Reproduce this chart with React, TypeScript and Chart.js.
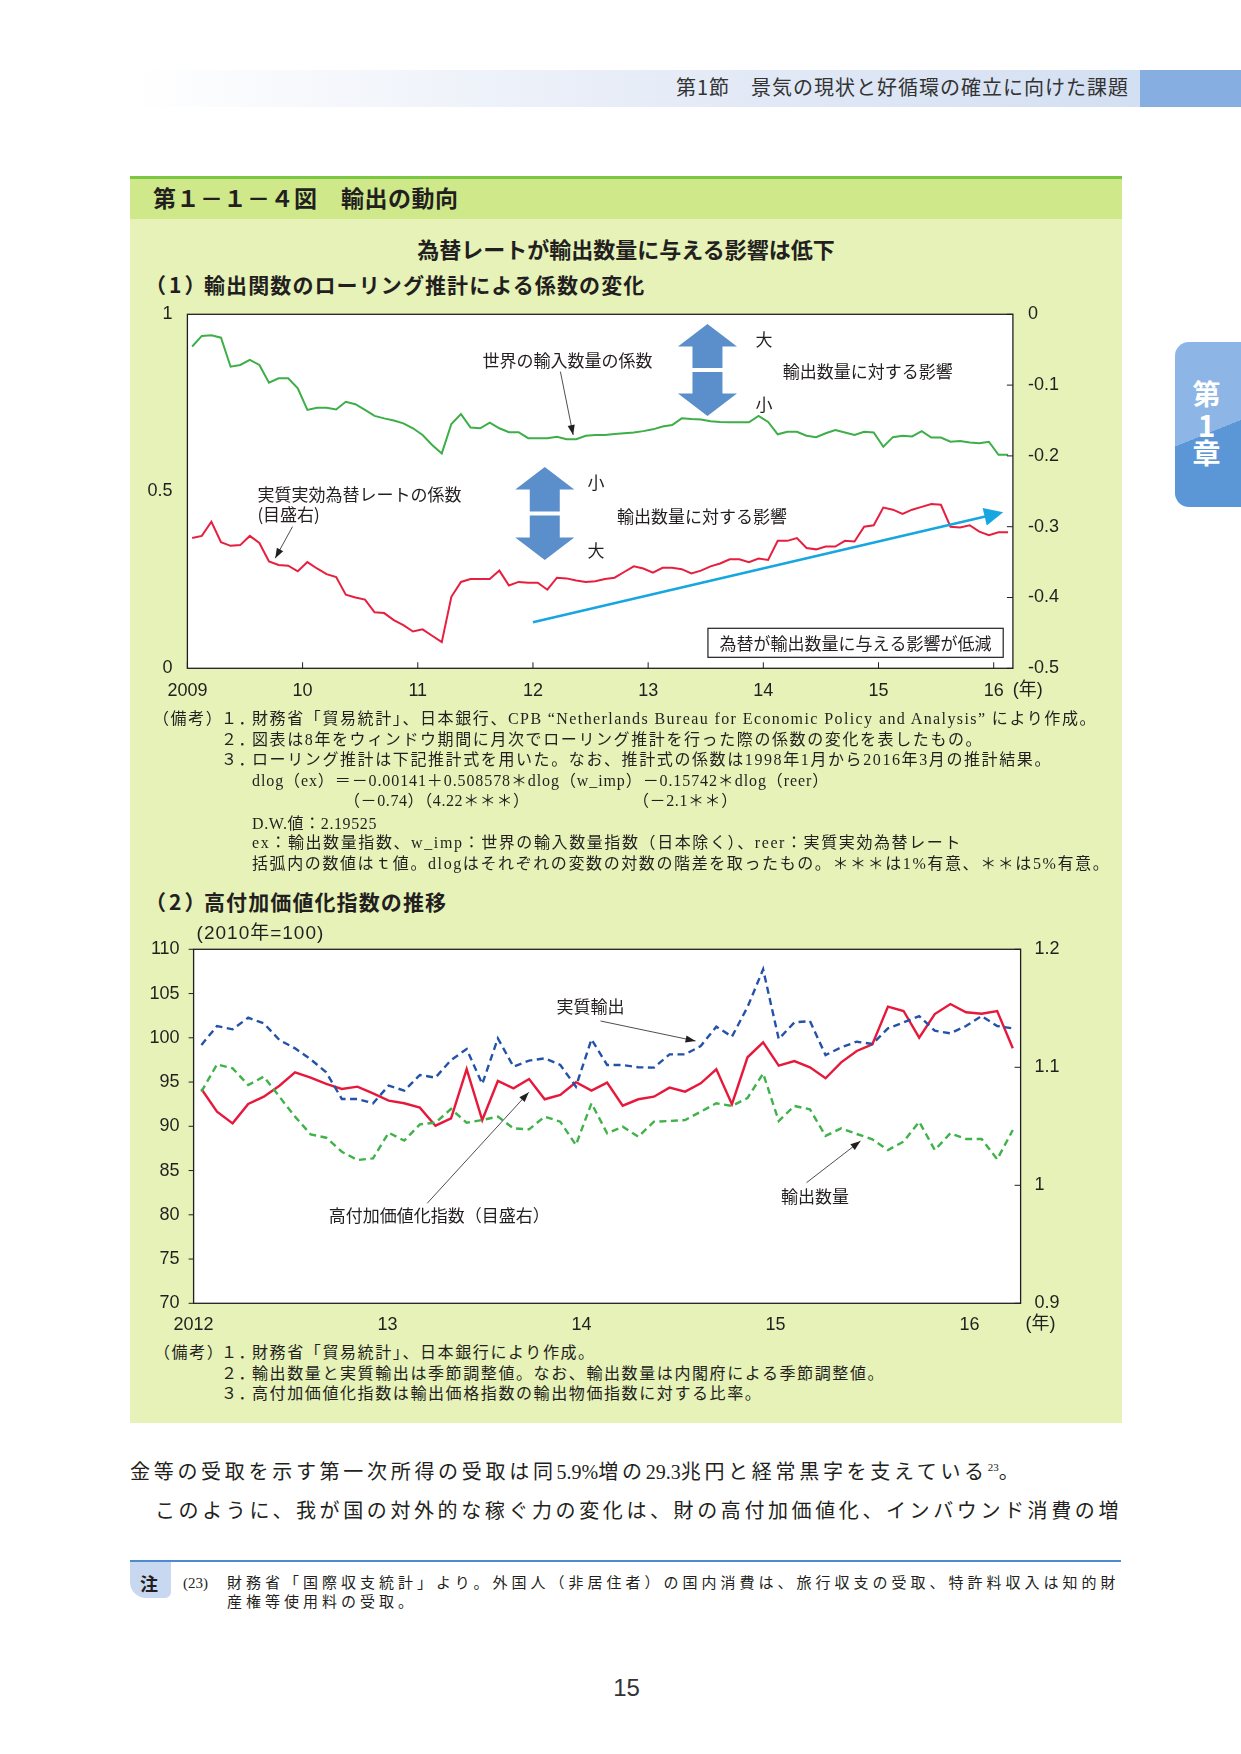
import React, { useEffect, useRef } from "react";
import { Chart, registerables } from "chart.js";

Chart.register(...registerables);

const SANS = '"Noto Sans CJK JP", "Noto Sans", sans-serif';
const NUM = '"Liberation Sans", "Noto Sans CJK JP", sans-serif';
const SERIF = '"Liberation Serif", "Noto Sans CJK JP", serif';
const INK = "#231f20";

// ---------------- Chart (1) data ----------------
const C1_YEAR_LABELS = ["2009", "10", "11", "12", "13", "14", "15", "16"];
const C1_MONTHS = 86; // Jan 2009 .. Feb 2016 (monthly rolling estimates)
const C1_WORLD_IMPORT_COEF = [
  0.909, 0.939, 0.941, 0.934, 0.852, 0.857, 0.871, 0.857, 0.807, 0.819,
  0.819, 0.791, 0.730, 0.736, 0.736, 0.731, 0.753, 0.746, 0.730, 0.713,
  0.706, 0.700, 0.692, 0.678, 0.659, 0.631, 0.607, 0.690, 0.718, 0.680,
  0.678, 0.694, 0.678, 0.667, 0.667, 0.650, 0.650, 0.650, 0.654, 0.647,
  0.647, 0.657, 0.659, 0.659, 0.662, 0.664, 0.666, 0.670, 0.675, 0.683,
  0.687, 0.706, 0.704, 0.703, 0.698, 0.696, 0.695, 0.695, 0.695, 0.713,
  0.696, 0.661, 0.668, 0.668, 0.657, 0.653, 0.664, 0.673, 0.666, 0.659,
  0.668, 0.666, 0.626, 0.653, 0.657, 0.655, 0.670, 0.652, 0.652, 0.640,
  0.642, 0.638, 0.636, 0.640, 0.603, 0.603,
];
const C1_REER_COEF = [
  -0.316, -0.313, -0.293, -0.322, -0.327, -0.326, -0.313, -0.323, -0.349, -0.354,
  -0.355, -0.363, -0.350, -0.359, -0.367, -0.371, -0.396, -0.400, -0.403, -0.421,
  -0.422, -0.432, -0.439, -0.448, -0.445, -0.454, -0.463, -0.399, -0.378, -0.374,
  -0.374, -0.374, -0.362, -0.383, -0.378, -0.379, -0.379, -0.389, -0.372, -0.373,
  -0.376, -0.378, -0.377, -0.374, -0.372, -0.364, -0.356, -0.359, -0.365, -0.358,
  -0.358, -0.360, -0.366, -0.362, -0.356, -0.352, -0.346, -0.346, -0.350, -0.345,
  -0.347, -0.320, -0.320, -0.316, -0.330, -0.332, -0.328, -0.328, -0.320, -0.321,
  -0.300, -0.298, -0.273, -0.276, -0.282, -0.276, -0.272, -0.268, -0.269, -0.300,
  -0.301, -0.298, -0.307, -0.312, -0.308, -0.308,
];

// annotations of chart (1), in data units (x: month index, yL / yR)
const C1_TEXTS = [
  { text: "世界の輸入数量の係数", x: 39.59, y: 0.868, align: "center" },
  { text: "大", x: 60.06, y: 0.930, align: "center" },
  { text: "小", x: 60.06, y: 0.744, align: "center" },
  { text: "輸出数量に対する影響", x: 62.02, y: 0.837, align: "left" },
  { text: "小", x: 42.56, y: 0.524, align: "center" },
  { text: "大", x: 42.56, y: 0.334, align: "center" },
  { text: "輸出数量に対する影響", x: 44.75, y: 0.430, align: "left" },
  { text: "実質実効為替レートの係数", x: 7.29, y: 0.4895, align: "left" },
  { text: "(目盛右)", x: 7.29, y: 0.433, align: "left" },
];
const C1_LEADERS = [
  { from: [38.86, 0.838], to: [40.19, 0.659] },
  { from: [10.95, 0.4], to: [9.15, 0.311] },
];
const C1_BLOCK_ARROWS = [
  { x: 54.18, top: 0.9726, bottom: 0.7127 },
  { x: 37.23, top: 0.5686, bottom: 0.3059 },
];
const C1_TREND = { from: [36.0, -0.435], to: [84.99, -0.2797] };
const C1_BOX = { x0: 54.23, x1: 84.99, y0: -0.4435, y1: -0.4845, text: "為替が輸出数量に与える影響が低減" };

// ---------------- Chart (2) data ----------------
const C2_YEAR_LABELS = ["2012", "13", "14", "15", "16"];
const C2_POINTS = 53;
const C2_TICK_SPACING = 12.43;
const C2_REAL_EXPORT = [
  99.19, 101.33, 100.96, 102.27, 101.63, 99.75, 98.81, 97.57, 96.10, 93.09,
  93.09, 92.60, 94.60, 94.03, 95.80, 95.50, 97.49, 98.73, 94.78, 99.94,
  96.74, 97.42, 97.68, 96.93, 94.48, 99.83, 96.93, 96.93, 96.67, 96.63,
  98.13, 98.13, 99.07, 101.26, 100.13, 103.48, 107.74, 99.86, 101.74, 101.89,
  98.05, 98.92, 99.56, 99.30, 101.07, 101.74, 102.46, 100.80, 100.50, 101.33,
  102.46, 101.33, 101.07,
];
const C2_EXPORT_VOLUME = [
  93.91, 97.00, 96.55, 94.67, 95.61, 93.35, 91.09, 89.09, 88.71, 87.13,
  86.19, 86.38, 89.28, 88.38, 90.22, 90.41, 91.96, 90.40, 90.71, 91.09,
  89.77, 89.66, 91.09, 90.52, 87.89, 92.60, 89.21, 89.96, 88.83, 90.52,
  90.60, 90.71, 91.65, 92.60, 92.30, 93.20, 95.97, 90.60, 92.30, 91.92,
  88.91, 89.77, 89.13, 88.53, 87.32, 88.27, 90.52, 87.32, 89.21, 88.57,
  88.57, 86.27, 89.58,
];
const C2_HIGH_VALUE_INDEX = [
  1.0816, 1.0624, 1.0525, 1.0689, 1.0751, 1.0844, 1.0957, 1.0912, 1.0859, 1.0816,
  1.0836, 1.0779, 1.0717, 1.0695, 1.0658, 1.0505, 1.0567, 1.0985, 1.0553, 1.0884,
  1.0822, 1.0901, 1.0729, 1.0766, 1.0873, 1.0802, 1.0870, 1.0675, 1.0729, 1.0751,
  1.0828, 1.0794, 1.0864, 1.0983, 1.0687, 1.1085, 1.1211, 1.1014, 1.1053, 1.1000,
  1.0907, 1.1042, 1.1138, 1.1195, 1.1514, 1.1477, 1.1251, 1.1451, 1.1536, 1.1466,
  1.1454, 1.1477, 1.1161,
];

const C2_TEXTS = [
  { text: "実質輸出", x: 24.94, y: 103.51, align: "center" },
  { text: "高付加価値化指数（目盛右）", x: 8.16, y: 79.86, align: "left" },
  { text: "輸出数量", x: 39.33, y: 82.05, align: "center" },
];
const C2_LEADERS = [
  { from: [25.58, 101.9], to: [31.67, 99.64] },
  { from: [14.47, 81.3], to: [20.98, 93.84] },
  { from: [38.78, 83.63], to: [42.24, 88.34] },
];

// ---------------- drawing helpers ----------------
function arrowHead(ctx: any, x1: number, y1: number, x2: number, y2: number, len: number, halfW: number, color: string) {
  const a = Math.atan2(y2 - y1, x2 - x1);
  const bx = x2 - len * Math.cos(a);
  const by = y2 - len * Math.sin(a);
  ctx.save();
  ctx.fillStyle = color;
  ctx.beginPath();
  ctx.moveTo(x2, y2);
  ctx.lineTo(bx + halfW * Math.sin(a), by - halfW * Math.cos(a));
  ctx.lineTo(bx - halfW * Math.sin(a), by + halfW * Math.cos(a));
  ctx.closePath();
  ctx.fill();
  ctx.restore();
}

function leader(ctx: any, x1: number, y1: number, x2: number, y2: number) {
  ctx.save();
  ctx.strokeStyle = INK;
  ctx.lineWidth = 0.8;
  ctx.beginPath();
  ctx.moveTo(x1, y1);
  ctx.lineTo(x2, y2);
  ctx.stroke();
  ctx.restore();
  arrowHead(ctx, x1, y1, x2, y2, 10, 3.6, INK);
}

function blockArrow(ctx: any, cx: number, top: number, bottom: number, color: string) {
  const headW = 29.5, headH = 22.5, shaftW = 15, gap = 2;
  const mid = (top + bottom) / 2;
  ctx.save();
  ctx.fillStyle = color;
  ctx.beginPath();
  ctx.moveTo(cx, top);
  ctx.lineTo(cx + headW, top + headH);
  ctx.lineTo(cx + shaftW, top + headH);
  ctx.lineTo(cx + shaftW, mid - gap);
  ctx.lineTo(cx - shaftW, mid - gap);
  ctx.lineTo(cx - shaftW, top + headH);
  ctx.lineTo(cx - headW, top + headH);
  ctx.closePath();
  ctx.fill();
  ctx.beginPath();
  ctx.moveTo(cx, bottom);
  ctx.lineTo(cx + headW, bottom - headH);
  ctx.lineTo(cx + shaftW, bottom - headH);
  ctx.lineTo(cx + shaftW, mid + gap);
  ctx.lineTo(cx - shaftW, mid + gap);
  ctx.lineTo(cx - shaftW, bottom - headH);
  ctx.lineTo(cx - headW, bottom - headH);
  ctx.closePath();
  ctx.fill();
  ctx.restore();
}

const whiteArea = {
  id: "whiteArea",
  beforeDraw(chart: any) {
    const { ctx, chartArea: a } = chart;
    ctx.save();
    ctx.fillStyle = "#ffffff";
    ctx.fillRect(a.left, a.top, a.width, a.height);
    ctx.restore();
  },
};

const chart1Decor = {
  id: "chart1Decor",
  afterDatasetsDraw(chart: any) {
    const { ctx, chartArea: a, scales } = chart;
    const X = (v: number) => scales.x.getPixelForValue(v);
    const L = (v: number) => scales.yL.getPixelForValue(v);
    const R = (v: number) => scales.yR.getPixelForValue(v);
    ctx.save();
    // block arrows
    C1_BLOCK_ARROWS.forEach((b) => blockArrow(ctx, X(b.x), L(b.top), L(b.bottom), "#5b8fcb"));
    // trend arrow
    const tx1 = X(C1_TREND.from[0]), ty1 = R(C1_TREND.from[1]);
    const tx2 = X(C1_TREND.to[0]), ty2 = R(C1_TREND.to[1]);
    const ang = Math.atan2(ty2 - ty1, tx2 - tx1);
    ctx.strokeStyle = "#17a6e0";
    ctx.lineWidth = 2.6;
    ctx.beginPath();
    ctx.moveTo(tx1, ty1);
    ctx.lineTo(tx2 - 14 * Math.cos(ang), ty2 - 14 * Math.sin(ang));
    ctx.stroke();
    arrowHead(ctx, tx1, ty1, tx2, ty2, 19, 9, "#17a6e0");
    // box
    const bx0 = X(C1_BOX.x0), bx1 = X(C1_BOX.x1), by0 = R(C1_BOX.y0), by1 = R(C1_BOX.y1);
    ctx.fillStyle = "#ffffff";
    ctx.fillRect(bx0, by0, bx1 - bx0, by1 - by0);
    ctx.strokeStyle = INK;
    ctx.lineWidth = 1.2;
    ctx.strokeRect(bx0, by0, bx1 - bx0, by1 - by0);
    ctx.fillStyle = INK;
    ctx.font = `17px ${SANS}`;
    ctx.textAlign = "center";
    ctx.textBaseline = "middle";
    ctx.fillText(C1_BOX.text, (bx0 + bx1) / 2, (by0 + by1) / 2 + 1);
    // texts
    ctx.font = `17px ${SANS}`;
    C1_TEXTS.forEach((t) => {
      ctx.textAlign = t.align;
      ctx.fillText(t.text, X(t.x), L(t.y));
    });
    C1_LEADERS.forEach((l) => leader(ctx, X(l.from[0]), L(l.from[1]), X(l.to[0]), L(l.to[1])));
    // frame & ticks
    ctx.strokeStyle = INK;
    ctx.lineWidth = 1.3;
    ctx.strokeRect(a.left, a.top, a.width, a.height);
    ctx.lineWidth = 1;
    ctx.beginPath();
    scales.yR.ticks.forEach((t: any) => {
      const y = R(t.value);
      ctx.moveTo(a.right - 6, y);
      ctx.lineTo(a.right, y);
    });
    scales.x.ticks.forEach((t: any) => {
      const x = X(t.value);
      ctx.moveTo(x, a.bottom);
      ctx.lineTo(x, a.bottom - 6);
    });
    ctx.stroke();
    // year unit
    ctx.fillStyle = INK;
    ctx.font = `18px ${NUM}`;
    ctx.textAlign = "left";
    ctx.textBaseline = "middle";
    const lastTick = scales.x.ticks[scales.x.ticks.length - 1];
    ctx.fillText("(年)", X(lastTick.value) + 19, a.bottom + 21.7);
    ctx.restore();
  },
};

const chart2Decor = {
  id: "chart2Decor",
  afterDatasetsDraw(chart: any) {
    const { ctx, chartArea: a, scales } = chart;
    const X = (v: number) => scales.x.getPixelForValue(v);
    const L = (v: number) => scales.yL.getPixelForValue(v);
    const R = (v: number) => scales.yR.getPixelForValue(v);
    ctx.save();
    ctx.fillStyle = INK;
    ctx.font = `17px ${SANS}`;
    ctx.textBaseline = "middle";
    C2_TEXTS.forEach((t) => {
      ctx.textAlign = t.align;
      ctx.fillText(t.text, X(t.x), L(t.y));
    });
    C2_LEADERS.forEach((l) => leader(ctx, X(l.from[0]), L(l.from[1]), X(l.to[0]), L(l.to[1])));
    ctx.strokeStyle = INK;
    ctx.lineWidth = 1.3;
    ctx.strokeRect(a.left, a.top, a.width, a.height);
    ctx.lineWidth = 1;
    ctx.beginPath();
    scales.yL.ticks.forEach((t: any) => {
      const y = L(t.value);
      ctx.moveTo(a.left - 5, y);
      ctx.lineTo(a.left, y);
    });
    scales.yR.ticks.forEach((t: any) => {
      const y = R(t.value);
      ctx.moveTo(a.right - 6, y);
      ctx.lineTo(a.right, y);
    });
    ctx.stroke();
    ctx.fillStyle = INK;
    ctx.font = `19px ${NUM}`;
    ctx.textAlign = "left";
    try {
      ctx.letterSpacing = "1px";
    } catch (e) {}
    ctx.fillText("(2010年=100)", a.left + 3, a.top - 15.5);
    try {
      ctx.letterSpacing = "0px";
    } catch (e) {}
    ctx.font = `18px ${NUM}`;
    ctx.fillText("(年)", a.right + 5, a.bottom + 21);
    ctx.restore();
  },
};

const tickFont = { family: NUM, size: 18 };
const fmt1 = (v: number) => String(Math.round(v * 10) / 10);

function makeChart1(canvas: HTMLCanvasElement) {
  return new Chart(canvas, {
    type: "line",
    data: {
      datasets: [
        {
          label: "世界の輸入数量の係数",
          data: C1_WORLD_IMPORT_COEF.map((v, i) => ({ x: i + 0.5, y: v })),
          yAxisID: "yL",
          borderColor: "#3dae48",
          borderWidth: 2,
          pointRadius: 0,
          tension: 0,
        },
        {
          label: "実質実効為替レートの係数",
          data: C1_REER_COEF.map((v, i) => ({ x: i + 0.5, y: v })),
          yAxisID: "yR",
          borderColor: "#e71f3f",
          borderWidth: 2,
          pointRadius: 0,
          tension: 0,
        },
      ],
    },
    options: {
      animation: false,
      responsive: false,
      maintainAspectRatio: false,
      layout: { padding: { top: 24.3, left: 0, right: 0, bottom: 0 } },
      plugins: { legend: { display: false }, tooltip: { enabled: false } },
      scales: {
        x: {
          type: "linear",
          min: 0,
          max: C1_MONTHS,
          grid: { display: false },
          border: { display: false },
          afterBuildTicks: (s: any) => {
            s.ticks = C1_YEAR_LABELS.map((_, k) => ({ value: k * 12 }));
          },
          afterFit: (s: any) => {
            s.height = 41.7;
          },
          ticks: {
            autoSkip: false,
            maxRotation: 0,
            padding: 4.3,
            color: INK,
            font: tickFont,
            callback: (_v: any, i: number) => C1_YEAR_LABELS[i],
          },
        },
        yL: {
          position: "left",
          min: 0,
          max: 1,
          grid: { display: false },
          border: { display: false },
          afterFit: (s: any) => {
            s.width = 57.4;
          },
          ticks: { stepSize: 0.5, padding: 7, color: INK, font: tickFont, callback: (v: any) => fmt1(v) },
        },
        yR: {
          position: "right",
          min: -0.5,
          max: 0,
          grid: { display: false },
          border: { display: false },
          afterFit: (s: any) => {
            s.width = 109.1;
          },
          ticks: { stepSize: 0.1, padding: 7, color: INK, font: tickFont, callback: (v: any) => fmt1(v) },
        },
      },
    },
    plugins: [whiteArea, chart1Decor],
  } as any);
}

function makeChart2(canvas: HTMLCanvasElement) {
  const pts = (arr: number[]) => arr.map((v, i) => ({ x: i, y: v }));
  return new Chart(canvas, {
    type: "line",
    data: {
      datasets: [
        {
          label: "実質輸出",
          data: pts(C2_REAL_EXPORT),
          yAxisID: "yL",
          borderColor: "#2352a8",
          borderWidth: 2.4,
          borderDash: [7, 4.5],
          pointRadius: 0,
          tension: 0,
        },
        {
          label: "輸出数量",
          data: pts(C2_EXPORT_VOLUME),
          yAxisID: "yL",
          borderColor: "#3fb24a",
          borderWidth: 2.4,
          borderDash: [7, 4.5],
          pointRadius: 0,
          tension: 0,
        },
        {
          label: "高付加価値化指数",
          data: pts(C2_HIGH_VALUE_INDEX),
          yAxisID: "yR",
          borderColor: "#e6193c",
          borderWidth: 2.4,
          pointRadius: 0,
          tension: 0,
        },
      ],
    },
    options: {
      animation: false,
      responsive: false,
      maintainAspectRatio: false,
      layout: { padding: { top: 29.3, left: 0, right: 0, bottom: 0 } },
      plugins: { legend: { display: false }, tooltip: { enabled: false } },
      scales: {
        x: {
          type: "linear",
          min: -0.5,
          max: C2_POINTS - 0.5,
          grid: { display: false },
          border: { display: false },
          afterBuildTicks: (s: any) => {
            s.ticks = C2_YEAR_LABELS.map((_, k) => ({ value: -0.5 + k * C2_TICK_SPACING }));
          },
          afterFit: (s: any) => {
            s.height = 36.7;
          },
          ticks: {
            autoSkip: false,
            maxRotation: 0,
            padding: 3.3,
            color: INK,
            font: tickFont,
            callback: (_v: any, i: number) => C2_YEAR_LABELS[i],
          },
        },
        yL: {
          position: "left",
          min: 70,
          max: 110,
          grid: { display: false },
          border: { display: false },
          afterFit: (s: any) => {
            s.width = 63.6;
          },
          ticks: { stepSize: 5, padding: 6, color: INK, font: tickFont },
        },
        yR: {
          position: "right",
          min: 0.9,
          max: 1.2,
          grid: { display: false },
          border: { display: false },
          afterFit: (s: any) => {
            s.width = 101.4;
          },
          ticks: { stepSize: 0.1, padding: 6, color: INK, font: tickFont, callback: (v: any) => fmt1(v) },
        },
      },
    },
    plugins: [whiteArea, chart2Decor],
  } as any);
}

// ---------------- page helpers ----------------
function T(props: { x: number; y: number; size: number; children: any; style?: any }) {
  const { x, y, size, children, style } = props;
  return (
    <div
      style={{
        position: "absolute",
        left: x,
        top: y - size * 0.75,
        fontSize: size,
        lineHeight: `${size * 1.5}px`,
        whiteSpace: "nowrap",
        ...style,
      }}
    >
      {children}
    </div>
  );
}

const NOTE = { fontFamily: SERIF, letterSpacing: "1.6px", color: INK };
const TIGHT = { letterSpacing: 0 };

export default function App() {
  const c1 = useRef<HTMLCanvasElement>(null);
  const c2 = useRef<HTMLCanvasElement>(null);
  useEffect(() => {
    const ch1 = makeChart1(c1.current!);
    const ch2 = makeChart2(c2.current!);
    return () => {
      ch1.destroy();
      ch2.destroy();
    };
  }, []);

  return (
    <div
      style={{
        position: "absolute",
        left: 0,
        top: 0,
        width: 1241,
        height: 1754,
        background: "#ffffff",
        overflow: "hidden",
        fontFamily: SANS,
        color: INK,
      }}
    >
      {/* running header */}
      <div
        style={{
          position: "absolute",
          left: 130,
          top: 70,
          width: 1010,
          height: 37,
          background: "linear-gradient(to right, #ffffff 0%, #e9eef8 45%, #d3dff2 100%)",
        }}
      />
      <div style={{ position: "absolute", left: 1140, top: 70, width: 101, height: 37, background: "#86aee0" }} />
      <div
        style={{
          position: "absolute",
          right: 1241 - 1129,
          top: 87 - 15,
          fontSize: 20,
          lineHeight: "30px",
          letterSpacing: "1px",
          color: "#333",
          whiteSpace: "nowrap",
        }}
      >
        第1節　景気の現状と好循環の確立に向けた課題
      </div>

      {/* chapter tab */}
      <div
        style={{
          position: "absolute",
          left: 1175,
          top: 342,
          width: 66,
          height: 165,
          borderRadius: "14px 0 0 14px",
          background: "linear-gradient(158deg, #8db5e5 54.6%, #5b96d6 54.6%)",
        }}
      />
      {["第", "1", "章"].map((c, i) => (
        <div
          key={c}
          style={{
            position: "absolute",
            left: 1175,
            width: 63,
            textAlign: "center",
            top: [393, 424, 452][i] - 21,
            fontSize: i === 1 ? 30 : 28,
            lineHeight: "42px",
            fontWeight: 700,
            color: "#ffffff",
          }}
        >
          {c}
        </div>
      ))}

      {/* figure box */}
      <div style={{ position: "absolute", left: 130, top: 177, width: 992, height: 1246, background: "#e6f2b8" }} />
      <div style={{ position: "absolute", left: 130, top: 177, width: 992, height: 42, background: "#cfe88a" }} />
      <div style={{ position: "absolute", left: 130, top: 176, width: 992, height: 3, background: "#7cc744" }} />

      <T x={153} y={197} size={23} style={{ fontWeight: 700, letterSpacing: "0.5px" }}>
        第１－１－４図　輸出の動向
      </T>
      <div
        style={{
          position: "absolute",
          left: 130,
          width: 992,
          textAlign: "center",
          top: 248 - 16.5,
          fontSize: 22,
          lineHeight: "33px",
          fontWeight: 700,
          whiteSpace: "nowrap",
        }}
      >
        為替レートが輸出数量に与える影響は低下
      </div>
      <T x={145} y={285} size={21} style={{ fontWeight: 700, letterSpacing: "3px" }}>
        （1）
      </T>
      <T x={204} y={285} size={21} style={{ fontWeight: 700, letterSpacing: "1.1px" }}>
        輸出関数のローリング推計による係数の変化
      </T>

      <canvas
        ref={c1}
        width={992}
        height={420}
        style={{ position: "absolute", left: 130, top: 290, width: 992, height: 420 }}
      />

      {/* notes (1) */}
      <T x={153} y={719} size={16} style={NOTE}>（備考）</T>
      <T x={221} y={719} size={16} style={NOTE}>１．</T>
      <T x={252} y={719} size={16} style={NOTE}>
        財務省「貿易統計」、日本銀行、
        <span style={{ letterSpacing: "1.4px" }}>CPB “Netherlands Bureau for Economic Policy and Analysis” </span>
        により作成。
      </T>
      <T x={221} y={740} size={16} style={NOTE}>２．</T>
      <T x={252} y={740} size={16} style={NOTE}>
        図表は8年をウィンドウ期間に月次でローリング推計を行った際の係数の変化を表したもの。
      </T>
      <T x={221} y={760} size={16} style={NOTE}>３．</T>
      <T x={252} y={760} size={16} style={NOTE}>
        ローリング推計は下記推計式を用いた。なお、推計式の係数は1998年1月から2016年3月の推計結果。
      </T>
      <T x={252} y={781} size={16} style={{ ...NOTE, letterSpacing: "0.9px" }}>
        dlog（ex）＝－0.00141＋0.508578＊dlog（w_imp）－0.15742＊dlog（reer）
      </T>
      <T x={344} y={801} size={16} style={{ ...NOTE, letterSpacing: "0.6px" }}>（－0.74）（4.22＊＊＊）</T>
      <T x={633} y={801} size={16} style={{ ...NOTE, letterSpacing: "0.6px" }}>（－2.1＊＊）</T>
      <T x={252} y={824} size={16} style={{ ...NOTE, letterSpacing: "0.6px" }}>D.W.値：2.19525</T>
      <T x={252} y={843} size={16} style={NOTE}>
        ex：輸出数量指数、w_imp：世界の輸入数量指数（日本除く）、reer：実質実効為替レート
      </T>
      <T x={252} y={864} size={16} style={NOTE}>
        括弧内の数値はｔ値。dlogはそれぞれの変数の対数の階差を取ったもの。＊＊＊は1%有意、＊＊は5%有意。
      </T>

      <T x={145} y={902} size={21} style={{ fontWeight: 700, letterSpacing: "3px" }}>
        （2）
      </T>
      <T x={204} y={902} size={21} style={{ fontWeight: 700, letterSpacing: "1.1px" }}>
        高付加価値化指数の推移
      </T>

      <canvas
        ref={c2}
        width={992}
        height={420}
        style={{ position: "absolute", left: 130, top: 920, width: 992, height: 420 }}
      />

      {/* notes (2) */}
      <T x={154} y={1353} size={16} style={NOTE}>（備考）</T>
      <T x={221} y={1353} size={16} style={NOTE}>１．</T>
      <T x={252} y={1353} size={16} style={NOTE}>財務省「貿易統計」、日本銀行により作成。</T>
      <T x={221} y={1374} size={16} style={NOTE}>２．</T>
      <T x={252} y={1374} size={16} style={NOTE}>
        輸出数量と実質輸出は季節調整値。なお、輸出数量は内閣府による季節調整値。
      </T>
      <T x={221} y={1394} size={16} style={NOTE}>３．</T>
      <T x={252} y={1394} size={16} style={NOTE}>
        高付加価値化指数は輸出価格指数の輸出物価指数に対する比率。
      </T>

      {/* body text */}
      <T x={130} y={1467} size={20} style={{ fontFamily: SERIF, letterSpacing: "3.7px" }}>
        金等の受取を示す第一次所得の受取は同<span style={TIGHT}>5.9%</span>増の
        <span style={TIGHT}>29.3</span>兆円と経常黒字を支えている
        <sup style={{ fontSize: 11, letterSpacing: 0 }}>23</sup>。
      </T>
      <T x={155} y={1511} size={20} style={{ fontFamily: SERIF, letterSpacing: "3.6px" }}>
        このように、我が国の対外的な稼ぐ力の変化は、財の高付加価値化、インバウンド消費の増
      </T>

      {/* footnote */}
      <div style={{ position: "absolute", left: 130, top: 1560, width: 991, height: 2, background: "#4d8ad0" }} />
      <div
        style={{
          position: "absolute",
          left: 130,
          top: 1562,
          width: 41,
          height: 36,
          background: "#c8d8f0",
          borderRadius: "0 0 6px 16px",
        }}
      />
      <T x={140} y={1583} size={18} style={{ fontWeight: 700 }}>注</T>
      <T x={183} y={1583} size={15} style={{ fontFamily: SERIF, color: INK }}>(23)</T>
      <T x={227} y={1583} size={15} style={{ fontFamily: SERIF, letterSpacing: "4px" }}>
        財務省「国際収支統計」より。外国人（非居住者）の国内消費は、旅行収支の受取、特許料収入は知的財
      </T>
      <T x={227} y={1602} size={15} style={{ fontFamily: SERIF, letterSpacing: "4px" }}>
        産権等使用料の受取。
      </T>

      <div
        style={{
          position: "absolute",
          left: 0,
          width: 1241,
          top: 1688 - 18,
          textAlign: "center",
          fontSize: 24,
          lineHeight: "36px",
          fontFamily: NUM,
          color: "#333",
          paddingLeft: 12,
          boxSizing: "border-box",
        }}
      >
        15
      </div>
    </div>
  );
}
